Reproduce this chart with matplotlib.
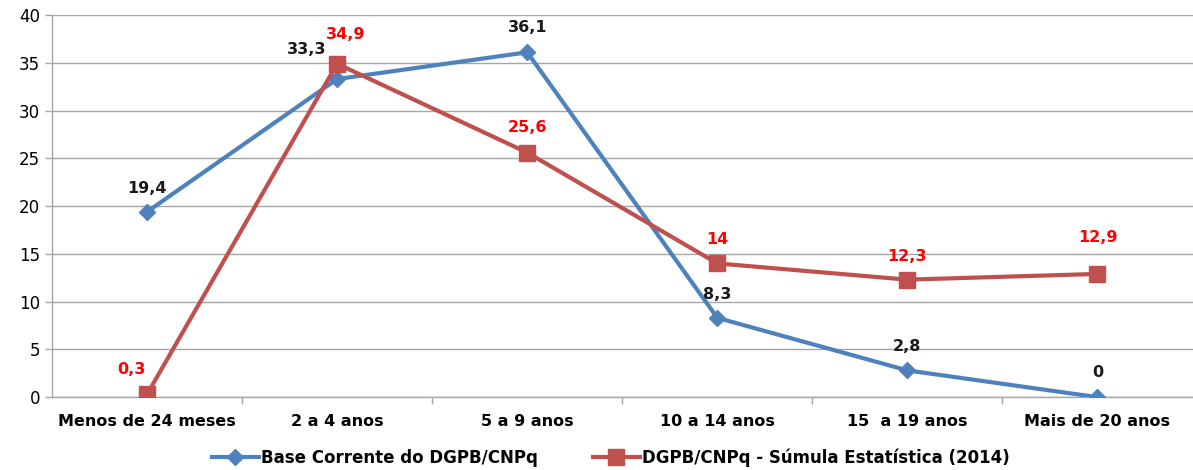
import matplotlib
matplotlib.use('Agg')
import matplotlib.pyplot as plt

categories = ['Menos de 24 meses', '2 a 4 anos', '5 a 9 anos',
              '10 a 14 anos', '15  a 19 anos', 'Mais de 20 anos']
base_corrente = [19.4, 33.3, 36.1, 8.3, 2.8, 0]
sumula_2014 = [0.3, 34.9, 25.6, 14, 12.3, 12.9]
blue_labels = ['19,4', '33,3', '36,1', '8,3', '2,8', '0']
red_labels = ['0,3', '34,9', '25,6', '14', '12,3', '12,9']

# label offsets in points (dx, dy)
blue_off = [(0, 17), (-22, 21), (0, 18), (0, 17), (0, 17), (0, 18)]
red_off = [(-11, 18), (6, 21), (0, 18), (0, 17), (0, 17), (0, 26)]

BLUE = '#4F81BD'
RED = '#C0504D'
GRID = '#A6A6A6'

fig = plt.figure(figsize=(11.93, 4.70), dpi=100)
ax = fig.add_axes([0.0436, 0.155, 0.956, 0.813])

x = list(range(len(categories)))
ax.plot(x, base_corrente, color=BLUE, lw=3, marker='D', ms=8,
        label='Base Corrente do DGPB/CNPq', zorder=3)
ax.plot(x, sumula_2014, color=RED, lw=3, marker='s', ms=11,
        label='DGPB/CNPq - Súmula Estatística (2014)', zorder=3)

for i in x:
    ax.annotate(blue_labels[i], (i, base_corrente[i]), xytext=blue_off[i],
                textcoords='offset points', ha='center', va='center',
                fontsize=11.5, fontweight='bold', color='#1a1a1a')
    ax.annotate(red_labels[i], (i, sumula_2014[i]), xytext=red_off[i],
                textcoords='offset points', ha='center', va='center',
                fontsize=11.5, fontweight='bold', color='#FF0000')

ax.set_xlim(-0.5, len(categories) - 0.5)
ax.set_ylim(0, 40)
ax.set_yticks(range(0, 41, 5))
ax.yaxis.grid(True, color=GRID, lw=1)
ax.set_axisbelow(True)

ax.set_xticks(x)
ax.set_xticklabels(categories, fontsize=11.5, fontweight='bold')
ax.set_xticks([i + 0.5 for i in x[:-1]], minor=True)
ax.tick_params(axis='x', which='major', length=0, pad=12)
ax.tick_params(axis='x', which='minor', length=5, color=GRID, width=1)
ax.tick_params(axis='y', length=5, color=GRID, width=1, labelsize=12)

for s in ['top', 'right']:
    ax.spines[s].set_visible(False)
for s in ['left', 'bottom']:
    ax.spines[s].set_color(GRID)
    ax.spines[s].set_linewidth(1)

ax.legend(loc='upper center', bbox_to_anchor=(0.49, -0.095), ncol=2,
          frameon=False, prop={'size': 12, 'weight': 'bold'},
          handlelength=2.8, handletextpad=0.15, columnspacing=3.3)

fig.savefig('out.png', dpi=100)
